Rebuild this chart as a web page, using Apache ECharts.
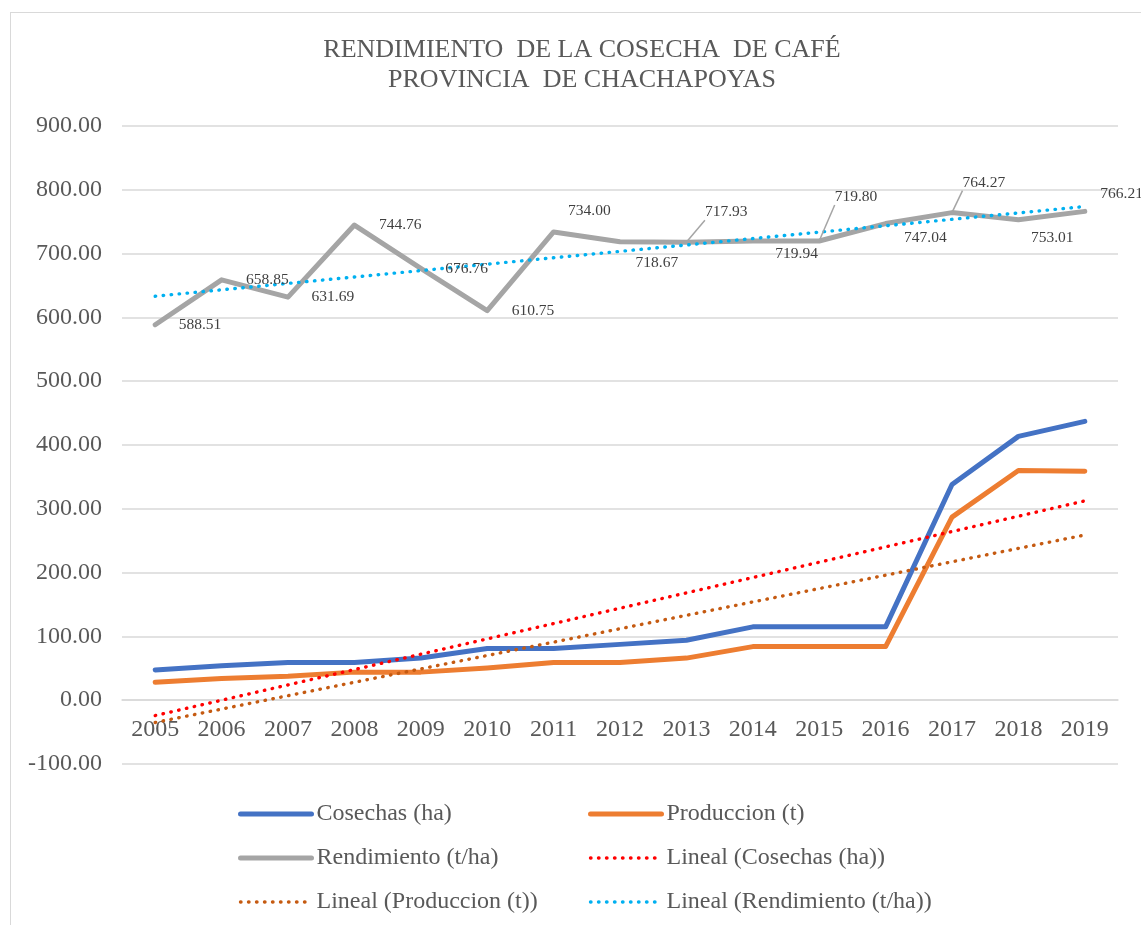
<!DOCTYPE html>
<html>
<head>
<meta charset="utf-8">
<script src="https://cdn.jsdelivr.net/npm/echarts@6/dist/echarts.min.js"></script>
<style>
  html, body { margin: 0; padding: 0; background: #fff; }
  #frame { position: absolute; left: 10px; top: 12px; width: 1200px; height: 1000px; border: 1px solid #d9d9d9; }
  #chart { position: absolute; left: 0; top: 0; width: 1141px; height: 925px; }
</style>
</head>
<body>
<div id="frame"></div>
<div id="chart"></div>
<script>
// datos
const years = ['2005', '2006', '2007', '2008', '2009', '2010', '2011', '2012', '2013', '2014', '2015', '2016', '2017', '2018', '2019']
const cosechas = [47.4, 54, 59, 59, 66, 81, 81, 87.5, 94, 115, 115, 115, 338, 413.5, 437]
const produccion = [28, 34, 37.5, 44, 44, 50.5, 59, 59, 66, 84, 84, 84, 287, 360, 359]
const rendimiento = [588.51, 658.85, 631.69, 744.76, 676.76, 610.75, 734.00, 718.67, 717.93, 719.94, 719.80, 747.04, 764.27, 753.01, 766.21]
// extremos de las lineas de tendencia (2005, 2019)
const trendCosechas = [-24.1, 312.4]
const trendProduccion = [-34.9, 258.9]
const trendRendimiento = [633.2, 773.8]
const yTicks = [-100, 0, 100, 200, 300, 400, 500, 600, 700, 800, 900]

const FONT = '"Liberation Serif", "Times New Roman", serif'
const TEXT = '#595959'

// posicion de las etiquetas de rendimiento (como en excel)
const labelOffsets = [[23, 0], [24, 0], [23, 0], [24, 0], [24, 0], [24, 0], [14, -21], [15, 21], [18, -30], [22, 13], [15, -44], [18, 14], [10, -30], [12, 18], [15, -17]]
const leaderIdx = [8, 10, 12]

function trendData (ends) {
  const arr = years.map(() => null)
  arr[0] = ends[0]
  arr[arr.length - 1] = ends[1]
  return arr
}

const rendData = rendimiento.map((v, i) => ({
  value: v,
  label: { offset: labelOffsets[i] },
  labelLine: { show: leaderIdx.indexOf(i) >= 0 }
}))

const solid = (color) => ({ width: 5, color, cap: 'round', join: 'round' })
const dotted = (color) => ({ width: 3.4, color, type: [0.5, 7.5], cap: 'round' })

const legendItem = (name, style) => ({ name, lineStyle: style, itemStyle: { opacity: 0 } })

const legendBase = {
  orient: 'vertical', top: 802, padding: 0, itemGap: 20, itemWidth: 71, itemHeight: 14,
  itemStyle: { opacity: 0 },
  textStyle: { fontFamily: FONT, fontSize: 24, color: TEXT, lineHeight: 24 }
}

const option = {
  animation: false,
  backgroundColor: 'transparent',
  title: {
    text: 'RENDIMIENTO  DE LA COSECHA  DE CAFÉ\nPROVINCIA  DE CHACHAPOYAS',
    left: 582,
    top: 35,
    padding: 0,
    textAlign: 'center',
    textStyle: { fontFamily: FONT, fontSize: 26, fontWeight: 'normal', color: TEXT, lineHeight: 30 }
  },
  grid: { left: 122, right: 23, top: 126, bottom: 161, containLabel: false },
  legend: [
    Object.assign({}, legendBase, {
      left: 238,
      data: [
        legendItem('Cosechas (ha)', solid('#4472C4')),
        legendItem('Rendimiento (t/ha)', solid('#A5A5A5')),
        legendItem('Lineal (Produccion (t))', dotted('#C55A11'))
      ]
    }),
    Object.assign({}, legendBase, {
      left: 588,
      data: [
        legendItem('Produccion (t)', solid('#ED7D31')),
        legendItem('Lineal (Cosechas (ha))', dotted('#FF0000')),
        legendItem('Lineal (Rendimiento (t/ha))', dotted('#00B0F0'))
      ]
    })
  ],
  xAxis: {
    type: 'category',
    data: years,
    boundaryGap: true,
    offset: -64,
    axisLine: { onZero: false, lineStyle: { color: '#d9d9d9', width: 1.5 } },
    axisTick: { show: false },
    axisLabel: { fontFamily: FONT, fontSize: 24, color: TEXT, margin: 18 }
  },
  yAxis: {
    type: 'value',
    min: yTicks[0],
    max: yTicks[yTicks.length - 1],
    interval: 100,
    axisLine: { show: false },
    axisTick: { show: false },
    splitLine: { lineStyle: { color: '#d9d9d9', width: 1.5 } },
    axisLabel: { fontFamily: FONT, fontSize: 24, color: TEXT, margin: 20, formatter: (v) => v.toFixed(2) }
  },
  series: [
    { name: 'Cosechas (ha)', type: 'line', data: cosechas, symbol: 'none', lineStyle: solid('#4472C4'), itemStyle: { color: '#4472C4' } },
    { name: 'Produccion (t)', type: 'line', data: produccion, symbol: 'none', lineStyle: solid('#ED7D31'), itemStyle: { color: '#ED7D31' } },
    {
      name: 'Rendimiento (t/ha)',
      type: 'line',
      data: rendData,
      symbol: 'circle',
      symbolSize: 1,
      lineStyle: solid('#A5A5A5'),
      itemStyle: { color: '#A5A5A5' },
      label: {
        show: true,
        position: 'right',
        distance: 0,
        fontFamily: FONT,
        fontSize: 15.5,
        color: '#404040',
        formatter: (p) => p.value.toFixed(2)
      },
      labelLine: { show: false, lineStyle: { color: '#A5A5A5', width: 1.5 }, length2: 0 }
    },
    { name: 'Lineal (Cosechas (ha))', type: 'line', data: trendData(trendCosechas), connectNulls: true, symbol: 'none', lineStyle: dotted('#FF0000'), itemStyle: { color: '#FF0000' } },
    { name: 'Lineal (Produccion (t))', type: 'line', data: trendData(trendProduccion), connectNulls: true, symbol: 'none', lineStyle: dotted('#C55A11'), itemStyle: { color: '#C55A11' } },
    { name: 'Lineal (Rendimiento (t/ha))', type: 'line', data: trendData(trendRendimiento), connectNulls: true, symbol: 'none', lineStyle: dotted('#00B0F0'), itemStyle: { color: '#00B0F0' } }
  ]
}

const myChart = echarts.init(document.getElementById('chart'))
myChart.setOption(option)
</script>
</body>
</html>
